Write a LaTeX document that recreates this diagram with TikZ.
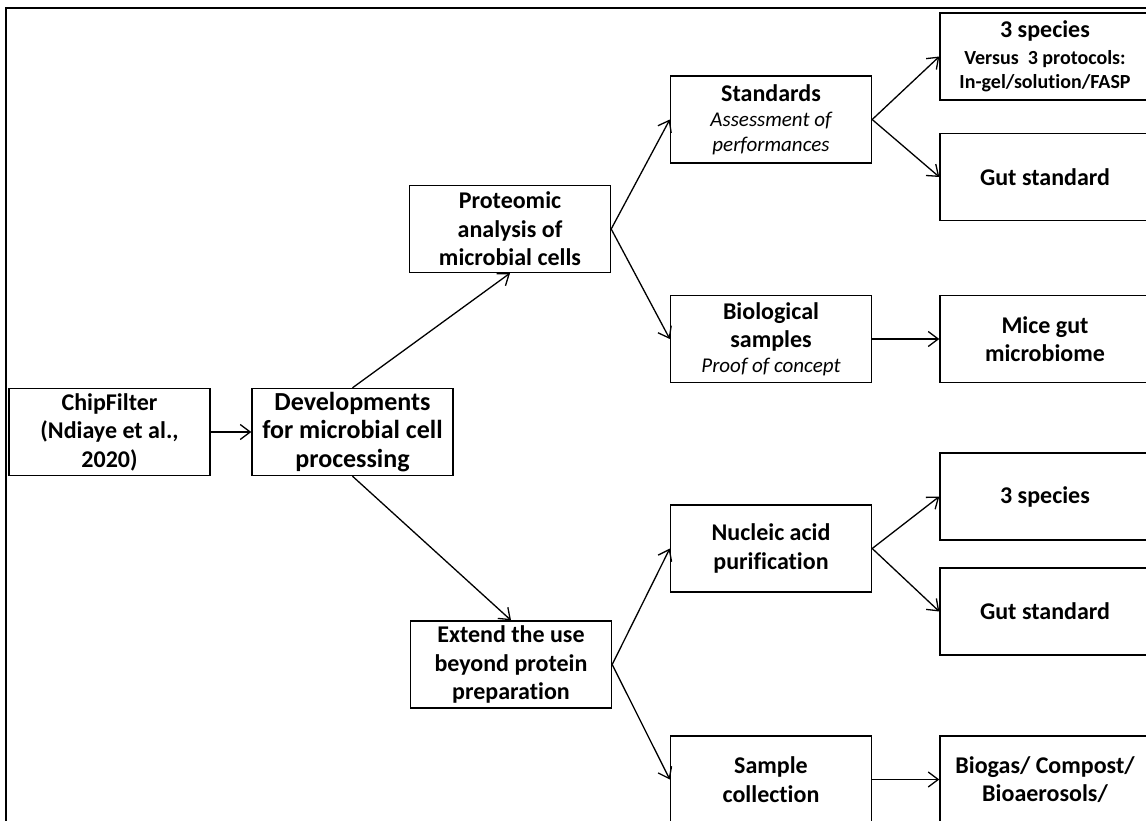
\documentclass[tikz,border=0pt]{standalone}
\usepackage{fontspec}
\setmainfont{Carlito}[Ligatures=NoCommon]
\usetikzlibrary{arrows.meta}
\newcommand{\itl}[1]{{\mdseries\itshape\fontsize{21}{25}\selectfont #1}}
\newcommand{\sml}[1]{{\fontsize{20}{24}\selectfont #1}}
\begin{document}
\begin{tikzpicture}[x=1pt,y=-1pt,
  box/.style={draw=black, line width=1.4pt, minimum width=201pt, minimum height=87pt,
    text width=199pt, inner sep=0pt, align=flush center,
    font=\bfseries\fontsize{24}{28.5}\selectfont},
  bigbox/.style={box, font=\bfseries\fontsize{26}{28.5}\selectfont},
  rbox/.style={box, minimum width=210pt, text width=208pt},
  arr/.style={-{Straight Barb[length=10pt,width=15pt]}, line width=1.3pt},
  frame/.style={line width=2pt}
]
\useasboundingbox (0,0) rectangle (1146,820);
\clip (0,0) rectangle (1146,820);
\draw[frame] (6,8) rectangle (1250,900);
% column 1
\node[box] (chip) at (109.5,432) {ChipFilter\\(Ndiaye et al.,\\2020)};
\node[bigbox] (dev) at (352.5,432) {Developments\\for microbial cell\\processing};
% column 2
\node[box] (prot) at (510,229) {Proteomic\\analysis of\\microbial cells};
\node[box] (ext) at (511,664.5) {Extend the use\\beyond protein\\preparation};
% column 3
\node[box] (std) at (771,119.5) {Standards\\[-3pt]\itl{Assessment of}\\[-4pt]\itl{performances}};
\node[box] (bio) at (771,339) {Biological\\samples\\[-4pt]\itl{Proof of concept}};
\node[box] (nuc) at (771,548.5) {Nucleic acid\\purification};
\node[box] (samp) at (771,779.5) {Sample\\collection};
% column 4
\node[rbox] (sp1) at (1045,56.5) {3 species\\[-2pt]\sml{Versus\ \ 3 protocols:}\\[-4pt]\sml{In-gel/solution/FASP}};
\node[rbox] (gut1) at (1045,177) {Gut standard};
\node[rbox] (mice) at (1045,339) {Mice gut\\microbiome};
\node[rbox] (sp2) at (1045,496.5) {3 species};
\node[rbox] (gut2) at (1045,611.5) {Gut standard};
\node[rbox] (bgas) at (1045,779.5) {Biogas/ Compost/\\Bioaerosols/};
% connectors
\draw[arr] (chip.east) -- (dev.west);
\draw[arr] (dev.north) -- (prot.south);
\draw[arr] (dev.south) -- (ext.north);
\draw[arr] (prot.east) -- (std.west);
\draw[arr] (prot.east) -- (bio.west);
\draw[arr] (std.east) -- (sp1.west);
\draw[arr] (std.east) -- (gut1.west);
\draw[arr] (bio.east) -- (mice.west);
\draw[arr] (ext.east) -- (nuc.west);
\draw[arr] (ext.east) -- (samp.west);
\draw[arr] (nuc.east) -- (sp2.west);
\draw[arr] (nuc.east) -- (gut2.west);
\draw[arr] (samp.east) -- (bgas.west);
\end{tikzpicture}
\end{document}
